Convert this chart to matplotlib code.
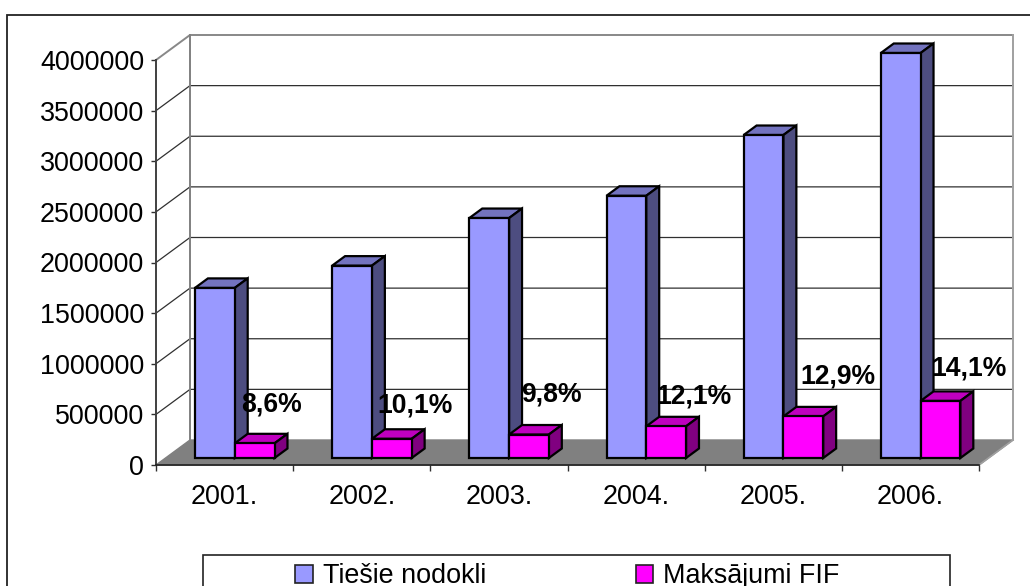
import matplotlib
matplotlib.use("Agg")
import matplotlib.pyplot as plt
from matplotlib.patches import Patch, Rectangle

plt.rcParams['font.family'] = ['Liberation Sans', 'DejaVu Sans']

years = ["2001.", "2002.", "2003.", "2004.", "2005.", "2006."]
nodokli = [1680000, 1900000, 2370000, 2590000, 3190000, 4000000]
maksajumi = [145000, 190000, 232000, 313000, 411000, 564000]
percent = ["8,6%", "10,1%", "9,8%", "12,1%", "12,9%", "14,1%"]
y_ticks = [0, 500000, 1000000, 1500000, 2000000, 2500000, 3000000, 3500000, 4000000]

# where the percent labels sit, in axis units
label_x = [0.84, 1.89, 2.885, 3.925, 4.975, 5.925]
label_y = [602000, 592000, 701000, 681000, 879000, 958000]

W, H = 1030, 586
fig = plt.figure(figsize=(W / 100, H / 100), dpi=100)
ax = fig.add_axes([156 / W, 1 - 465 / H, (979 - 156) / W, 405 / H])
ax.set_xlim(0, 6)
ax.set_ylim(0, 4000000)
ax.patch.set_alpha(0)

# fake 3d depth of the chart box, in data units
depth_x = 34 / 137.2
depth_y = 25 / 405 * 4000000
bar_w = 0.29
shift_x = 0.3
shift_y = 0.28
bar_depth = 0.38

# outer frame, runs off the right and bottom of the picture
fig.add_artist(Rectangle((7 / W, -0.1), 1.1, 1.1 - 15 / H, transform=fig.transFigure,
                         facecolor='none', edgecolor='#222222', linewidth=1.3))

# floor and walls
ax.fill([0, depth_x, 6 + depth_x, 6], [0, depth_y, depth_y, 0], color='#808080', zorder=1, clip_on=False)
for v in y_ticks[1:]:
    col = '#888888' if v == 4000000 else '#303030'
    lw = 1.4 if v == 4000000 else 0.9
    ax.plot([0, depth_x, 6 + depth_x], [v, v + depth_y, v + depth_y], color=col, linewidth=lw,
            zorder=1, clip_on=False)
ax.plot([depth_x, depth_x], [depth_y, 4000000 + depth_y], color='#808080', linewidth=1.4, zorder=1, clip_on=False)
ax.plot([6 + depth_x, 6 + depth_x], [depth_y, 4000000 + depth_y], color='#a0a0a0', linewidth=1.4, zorder=1,
        clip_on=False)
ax.plot([6, 6 + depth_x], [0, depth_y], color='#a0a0a0', linewidth=1.2, zorder=1, clip_on=False)


def box(left, value, front, top, side):
    sx = shift_x * depth_x
    sy = shift_y * depth_y
    dx = bar_depth * depth_x
    dy = bar_depth * depth_y
    x0 = left + sx
    x1 = x0 + bar_w
    y0 = sy
    y1 = sy + value
    ec = dict(edgecolor='black', linewidth=1.6, joinstyle='miter', zorder=3, clip_on=False)
    ax.fill([x0, x0 + dx, x1 + dx, x1], [y1, y1 + dy, y1 + dy, y1], facecolor=top, **ec)
    ax.fill([x1, x1 + dx, x1 + dx, x1], [y0, y0 + dy, y1 + dy, y1], facecolor=side, **ec)
    ax.fill([x0, x1, x1, x0], [y0, y0, y1, y1], facecolor=front, **ec)


for i in range(len(years)):
    box(i + 0.5 - bar_w, nodokli[i], '#9999FF', '#7373BF', '#4D4D80')
    box(i + 0.5, maksajumi[i], '#FF00FF', '#BF00BF', '#800080')
    ax.text(label_x[i], label_y[i], percent[i], ha='center', va='center', fontsize=19.1,
            fontweight='bold', color='black', zorder=5, clip_on=False)

# axes
for s in ['top', 'right']:
    ax.spines[s].set_visible(False)
ax.spines['left'].set_color('#404040')
ax.spines['left'].set_linewidth(1.4)
ax.spines['bottom'].set_color('#202020')
ax.spines['bottom'].set_linewidth(1.2)
ax.spines['left'].set_zorder(2)
ax.spines['bottom'].set_zorder(2)
ax.set_yticks(y_ticks)
ax.set_yticklabels([str(v) for v in y_ticks])
ax.set_xticks(range(7))
ax.set_xticklabels([])
ax.set_xticks([i + 0.5 for i in range(6)], labels=years, minor=True)
ax.tick_params(axis='y', labelsize=19.4, length=3.5, width=1, pad=5, color='#303030')
ax.tick_params(axis='x', which='major', length=4, width=1, color='#303030')
ax.tick_params(axis='x', which='minor', length=0, labelsize=19.4, pad=13.5)

# legend box is cut by the bottom of the picture
fig.add_artist(Rectangle((203 / W, -0.1), 747 / W, 0.1 + 1 - 555 / H, transform=fig.transFigure,
                         facecolor='white', edgecolor='#222222', linewidth=1.2))
handles = [Patch(facecolor='#9999FF', edgecolor='#222222', linewidth=1.2),
           Patch(facecolor='#FF00FF', edgecolor='#222222', linewidth=1.2)]
leg = fig.legend(handles, ["Tiešie nodokli", "Maksājumi FIF"], ncol=2, frameon=False,
                 loc='center left', bbox_to_anchor=(295 / W, 1 - 576 / H), borderaxespad=0, borderpad=0,
                 fontsize=19.4, handlelength=0.65, handleheight=0.65, handletextpad=0.38, columnspacing=5.55)
leg.set_zorder(10)

fig.savefig("out.png", dpi=100)
